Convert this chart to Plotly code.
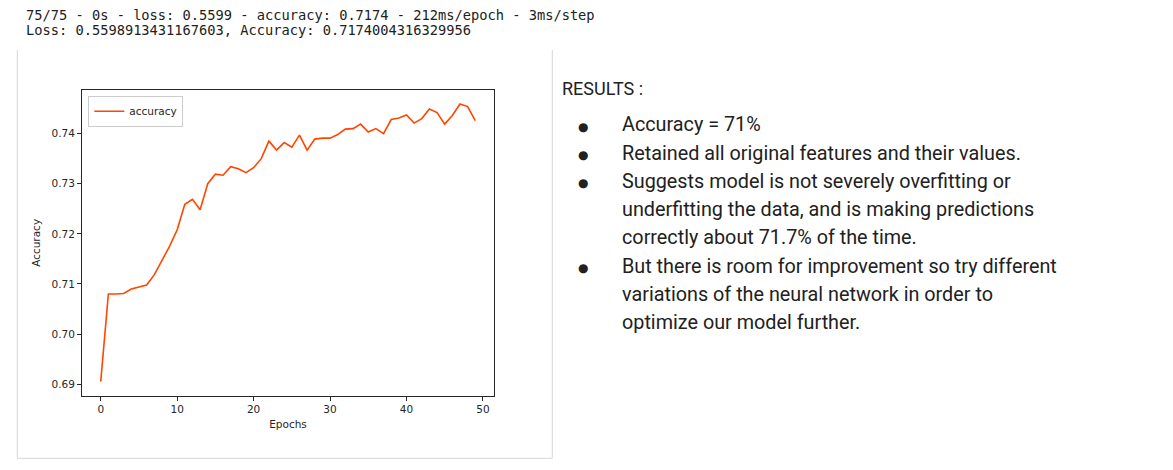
import plotly.graph_objects as go

W, H = 1173, 470
# the page body adds an 8px margin around the figure
OFFSET = 8

epochs = list(range(50))
accuracy = [
    0.6905, 0.7080, 0.7080, 0.7081, 0.7090, 0.7094, 0.7098, 0.7118, 0.7145, 0.7175,
    0.7208, 0.7259, 0.7269, 0.7248, 0.7300, 0.7319, 0.7317, 0.7334, 0.7330, 0.7322,
    0.7332, 0.7350, 0.7385, 0.7367, 0.7382, 0.7373, 0.7397, 0.7367, 0.7389, 0.7391,
    0.7391, 0.7398, 0.7409, 0.7410, 0.7419, 0.7403, 0.7410, 0.7400, 0.7428, 0.7431,
    0.7437, 0.7421, 0.7430, 0.7449, 0.7442, 0.7419, 0.7436, 0.7459, 0.7454, 0.7426,
]
x_ticks = [0, 10, 20, 30, 40, 50]
y_ticks = [0.69, 0.70, 0.71, 0.72, 0.73, 0.74]

log_lines = [
    "75/75 - 0s - loss: 0.5599 - accuracy: 0.7174 - 212ms/epoch - 3ms/step",
    "Loss: 0.5598913431167603, Accuracy: 0.7174004316329956",
]
results_title = "RESULTS :"
# (text, starts a new bullet?)
result_lines = [
    ("Accuracy = 71%", True),
    ("Retained all original features and their values.", True),
    ("Suggests model is not severely overfitting or", True),
    ("underfitting the data, and is making predictions", False),
    ("correctly about 71.7% of the time.", False),
    ("But there is room for improvement so try different", True),
    ("variations of the neural network in order to", False),
    ("optimize our model further.", False),
]


def px(x):
    return (x - OFFSET) / W


def py(y):
    return 1 - (y - OFFSET) / H


fig = go.Figure()
fig.add_trace(go.Scatter(
    x=epochs, y=accuracy, mode="lines", name="accuracy",
    line=dict(color="#ff4500", width=1.6),
))

axis_common = dict(
    showgrid=False, zeroline=False, showline=True, mirror=True,
    linecolor="#262626", linewidth=1, ticks="outside", ticklen=4,
    tickcolor="#262626", tickfont=dict(family="DejaVu Sans", size=10.5, color="#262626"),
)
fig.update_xaxes(
    range=[-2.45, 51.45], tickvals=x_ticks, domain=[px(82), px(494)],
    title=dict(text="Epochs", standoff=6,
               font=dict(family="DejaVu Sans", size=10.5, color="#262626")),
    **axis_common,
)
fig.update_yaxes(
    range=[0.6877, 0.7487], tickvals=y_ticks, tickformat=".2f",
    domain=[py(395.7), py(90)],
    title=dict(text="Accuracy", standoff=8,
               font=dict(family="DejaVu Sans", size=10.5, color="#262626")),
    **axis_common,
)

annotations = []
for i, line in enumerate(log_lines):
    annotations.append(dict(
        text=line, x=px(24), y=py(15 + 15 * i), xref="paper", yref="paper",
        xanchor="left", yanchor="middle", showarrow=False,
        font=dict(family="DejaVu Sans Mono", size=13.7, color="#212121"),
    ))

annotations.append(dict(
    text=results_title, x=px(560), y=py(88), xref="paper", yref="paper",
    xanchor="left", yanchor="middle", showarrow=False,
    font=dict(family="Roboto", size=18, color="#212121"),
))
for i, (line, bullet) in enumerate(result_lines):
    base = 131.7 + 28.3 * i
    annotations.append(dict(
        text=line, x=px(620), y=py(base - 7), xref="paper", yref="paper",
        xanchor="left", yanchor="middle", showarrow=False,
        font=dict(family="Roboto", size=19.8, color="#212121"),
    ))
    if bullet:
        annotations.append(dict(
            text="●", x=px(582.7), y=py(base - 5), xref="paper", yref="paper",
            xanchor="center", yanchor="middle", showarrow=False,
            font=dict(family="DejaVu Sans", size=12, color="#212121"),
        ))

# notebook output frame
frame = dict(type="line", xref="paper", yref="paper",
             line=dict(color="#d6d6d6", width=1))
shapes = [
    dict(frame, x0=px(17.3), x1=px(17.3), y0=py(50), y1=py(458.3)),
    dict(frame, x0=px(552.3), x1=px(552.3), y0=py(50), y1=py(458.3)),
    dict(frame, x0=px(17.3), x1=px(552.3), y0=py(458.3), y1=py(458.3)),
]

fig.update_layout(
    width=W, height=H, margin=dict(l=0, r=0, t=0, b=0),
    paper_bgcolor="white", plot_bgcolor="white",
    annotations=annotations, shapes=shapes,
    showlegend=True,
    legend=dict(
        x=px(88.3), y=py(95.7), xanchor="left", yanchor="top",
        bgcolor="white", bordercolor="#cccccc", borderwidth=1,
        font=dict(family="DejaVu Sans", size=10.5, color="#262626"),
        itemwidth=30, tracegroupgap=0,
    ),
)

fig.write_html("out.html")
